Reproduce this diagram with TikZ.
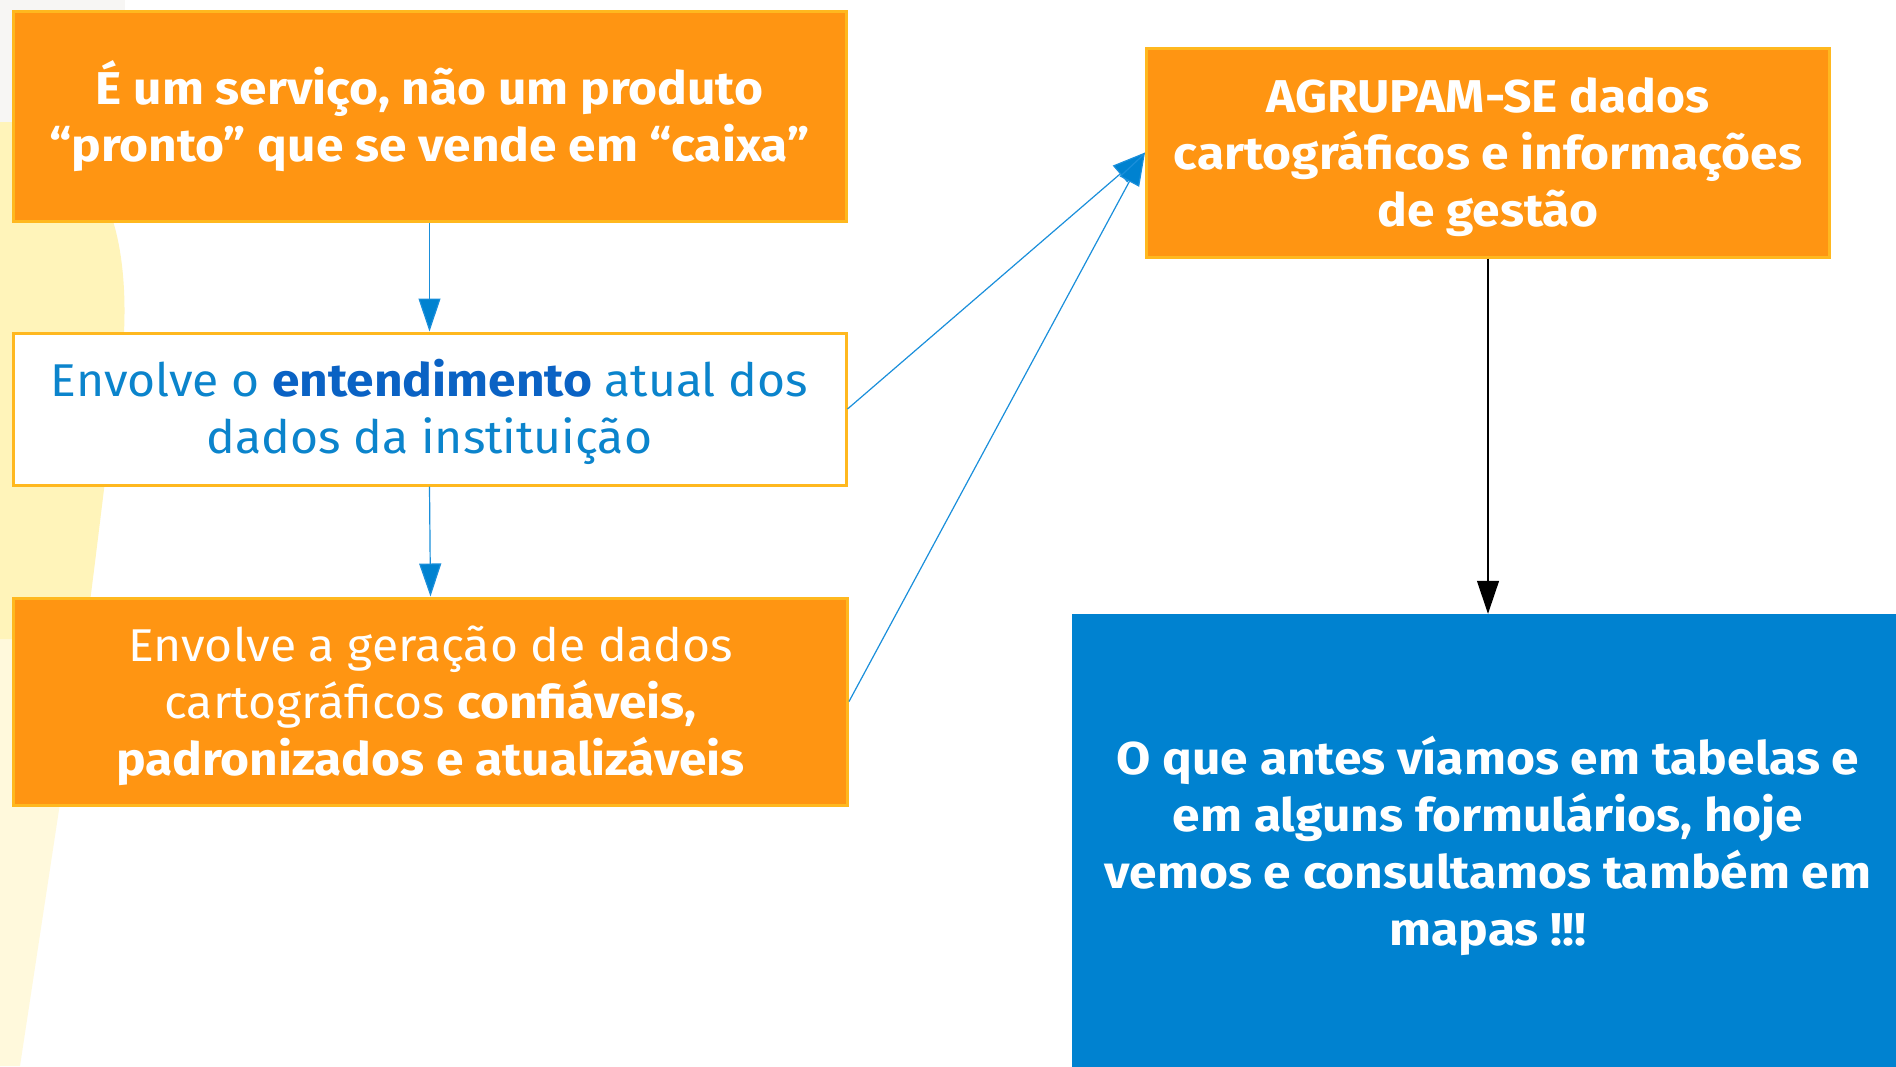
\documentclass[tikz,border=0pt]{standalone}
\usepackage{fontspec}
\setmainfont{Fira Sans}[FakeStretch=1.045, BoldFeatures={FakeStretch=1.08}]
\usetikzlibrary{arrows.meta}
\definecolor{orng}{HTML}{FF9512}
\definecolor{obord}{HTML}{FFB81F}
\definecolor{bbox}{HTML}{0082D0}
\definecolor{btext}{HTML}{0B84CC}
\definecolor{bbold}{HTML}{0A62C4}
\definecolor{aline}{HTML}{1A8FDB}
\definecolor{yel}{HTML}{FFF4BA}
\definecolor{yellight}{HTML}{FFF9DC}
\definecolor{grayish}{HTML}{F7F6F4}
\newcommand\mystrut{\rule{0pt}{44pt}}
\tikzset{
  obox/.style={draw=obord, line width=3pt, fill=orng, text=white, align=center, inner sep=0pt},
  wbox/.style={draw=obord, line width=3pt, fill=white, text=btext, align=center, inner sep=0pt},
  bluebox/.style={fill=bbox, text=white, align=center, inner sep=0pt},
  bigfont/.style={font=\fontsize{46}{57}\selectfont},
  conn/.style={draw=aline, line width=1.2pt, -{Triangle[length=33pt,width=22pt,fill=bbox]}},
  kconn/.style={draw=black, line width=1.2pt, -{Triangle[length=33pt,width=22pt,fill=black]}},
}
\begin{document}
\begin{tikzpicture}[x=1pt,y=-1pt]
\useasboundingbox (0,0) rectangle (1896,1066);
\fill[white] (0,0) rectangle (1896,1066);
% background decoration
\fill[grayish] (0,0) rectangle (125,122);
\fill[yellight] (0,639) -- (85,639) -- (20,1066) -- (0,1066) -- cycle;
\fill[yel] (0,122) -- (118,122) -- (113,221) .. controls (128,270) and (128,340) .. (115,408)
  .. controls (108,450) and (96,560) .. (85,639) -- (0,639) -- cycle;
% nodes
\node[obox, bigfont, minimum width=833pt, minimum height=210pt] (b1) at (429.5,116)
  {\mystrut\bfseries É um serviço, não um produto\\\bfseries “pronto” que se vende em “caixa”};
\node[wbox, bigfont, minimum width=833pt, minimum height=152pt] (b2) at (429.5,409)
  {\mystrut Envolve o {\bfseries\color{bbold}entendimento} atual dos\\dados da instituição};
\node[obox, bigfont, minimum width=834pt, minimum height=207pt] (b3) at (430.5,701.5)
  {\mystrut Envolve a geração de dados\\cartográficos {\bfseries confiáveis,}\\\bfseries padronizados e atualizáveis};
\node[obox, bigfont, minimum width=683pt, minimum height=209pt] (b4) at (1488,152.5)
  {\mystrut\bfseries AGRUPAM-SE dados\\\bfseries cartográficos e informações\\\bfseries de gestão};
\node[bluebox, bigfont, minimum width=832pt, minimum height=458pt] (b5) at (1488,843)
  {\mystrut\bfseries O que antes víamos em tabelas e\\\bfseries em alguns formulários, hoje\\\bfseries vemos e consultamos também em\\\bfseries mapas !!!};
% connectors
\draw[conn] (b1.south) -- (b2.north);
\draw[conn] (b2.south) -- (b3.north);
\draw[conn] (b2.east) -- (b4.west);
\draw[conn] (b3.east) -- (b4.west);
\draw[kconn] (b4.south) -- (b5.north);
\end{tikzpicture}
\end{document}
